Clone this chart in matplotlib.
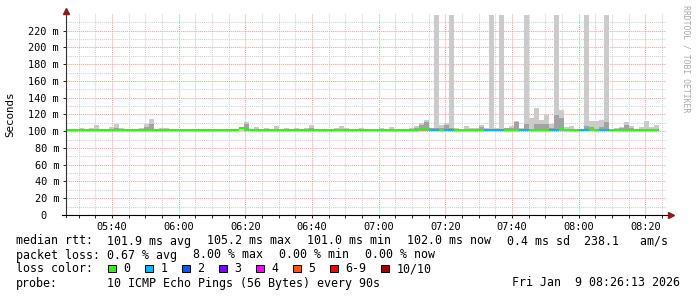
import numpy as np
import matplotlib
matplotlib.use("Agg")
import matplotlib.pyplot as plt
from matplotlib.patches import Rectangle
from matplotlib.ticker import MultipleLocator, FixedLocator, FuncFormatter

# time axis in minutes since midnight, 90 s steps
view_start = 326.2   # 05:26:13
view_end = 506.2     # 08:26:13
step_start = 325.6
step_len = 1.5

# median rtt per step (ms)
median_ms = [
    101.9, 101.9, 101.9, 101.9, 101.9, 101.9, 101.9, 101.9, 101.9, 101.9,
    101.0, 101.0, 101.9, 101.0, 101.0, 101.9, 101.9, 101.9, 101.9, 101.9,
    101.9, 101.9, 101.9, 101.0, 101.9, 101.9, 101.9, 101.9, 101.0, 101.9,
    101.9, 101.9, 101.9, 101.0, 101.9, 104.0, 103.0, 101.9, 101.9, 101.0,
    101.9, 101.9, 101.0, 101.9, 101.9, 101.9, 101.9, 101.9, 101.9, 101.9,
    101.9, 101.9, 101.9, 101.0, 101.9, 101.9, 101.9, 101.9, 101.9, 101.9,
    101.9, 101.9, 101.9, 101.9, 101.9, 101.9, 101.9, 101.0, 101.9, 101.9,
    101.9, 103.0, 103.0, 101.9, 101.9, 101.9, 101.9, 101.9, 101.0, 101.0,
    101.9, 101.9, 101.9, 101.9, 101.9, 101.9, 101.9, 101.9, 101.9, 101.9,
    101.9, 101.9, 101.9, 101.9, 101.9, 101.9, 101.9, 101.9, 101.9, 103.5,
    101.9, 101.9, 101.9, 101.9, 101.9, 104.0, 101.9, 101.9, 101.9, 101.9,
    101.9, 101.9, 101.9, 101.9, 101.9, 101.9, 101.9, 101.9, 101.9,
]

# lost pings out of 10 per step
loss = [
    0, 0, 0, 0, 0, 0, 0, 0, 0, 0,
    0, 0, 0, 0, 0, 0, 0, 0, 0, 0,
    0, 0, 0, 0, 0, 0, 0, 0, 0, 0,
    0, 0, 0, 0, 0, 0, 0, 0, 0, 0,
    0, 0, 0, 0, 0, 0, 0, 0, 0, 0,
    0, 0, 0, 0, 0, 0, 0, 0, 0, 0,
    0, 0, 0, 0, 0, 0, 0, 0, 0, 0,
    0, 0, 0, 1, 1, 0, 1, 1, 0, 0,
    0, 0, 0, 0, 1, 1, 1, 1, 0, 0,
    0, 1, 1, 0, 0, 0, 0, 1, 1, 0,
    0, 0, 0, 1, 1, 0, 0, 1, 1, 0,
    0, 0, 0, 0, 0, 0, 0, 0, 0,
]

# top of the light smoke (max ping, ms)
smoke_max = [
    102.5, 102.5, 102.5, 104.0, 102.5, 104.0, 107.6, 102.5, 102.5, 105.2,
    109.0, 104.0, 102.5, 102.5, 102.5, 104.0, 108.8, 114.7, 102.5, 104.0,
    104.0, 102.5, 102.5, 102.5, 102.5, 102.5, 102.5, 102.5, 102.5, 102.5,
    102.5, 102.5, 102.5, 102.5, 102.5, 105.5, 111.0, 102.5, 105.2, 102.5,
    103.5, 102.5, 106.4, 102.5, 104.0, 102.5, 104.0, 102.5, 104.0, 107.6,
    102.5, 102.5, 102.5, 102.5, 104.0, 106.4, 103.5, 102.5, 102.5, 104.0,
    102.5, 102.5, 102.5, 104.0, 102.5, 105.2, 102.5, 102.5, 102.5, 104.0,
    106.4, 110.0, 113.6, 104.0, 239.0, 107.6, 110.0, 239.0, 103.5, 102.5,
    106.4, 104.0, 104.0, 107.6, 104.0, 239.0, 104.0, 239.0, 104.0, 106.4,
    112.4, 104.0, 239.0, 116.0, 128.0, 113.0, 119.5, 109.0, 239.0, 125.0,
    105.2, 106.0, 102.5, 102.5, 239.0, 112.0, 112.0, 113.0, 239.0, 102.5,
    104.0, 105.2, 111.0, 106.4, 102.5, 105.2, 112.0, 105.2, 107.6,
]

# top of the darker inner smoke (ms), 0 = none
smoke_mid = [
    0, 0, 0, 0, 0, 0, 0, 0, 0, 0,
    104.0, 0, 0, 0, 0, 0, 105.2, 108.8, 0, 0,
    0, 0, 0, 0, 0, 0, 0, 0, 0, 0,
    0, 0, 0, 0, 0, 0, 108.0, 0, 0, 0,
    0, 0, 0, 0, 0, 0, 0, 0, 0, 104.0,
    0, 0, 0, 0, 0, 0, 0, 0, 0, 0,
    0, 0, 0, 0, 0, 0, 0, 0, 0, 0,
    104.0, 107.6, 111.0, 103.5, 104.0, 104.0, 107.6, 104.0, 0, 0,
    0, 0, 0, 105.2, 0, 103.0, 0, 0, 104.0, 104.0,
    111.0, 0, 109.0, 0, 108.0, 108.0, 109.0, 104.0, 119.5, 116.0,
    0, 0, 0, 0, 106.0, 104.5, 0, 105.2, 111.0, 0,
    0, 104.0, 107.6, 104.0, 0, 0, 0, 0, 0,
]

smoke_floor = 100.5

y_ticks = [0, 20, 40, 60, 80, 100, 120, 140, 160, 180, 200, 220]
y_minor = [10, 30, 50, 70, 90, 110, 130, 150, 170, 190, 210, 230]

loss_labels = ["0", "1", "2", "3", "4", "5", "6-9", "10/10"]
loss_colors = ["#26ff00", "#00b8ff", "#0059ff", "#7e00ff", "#ff00ff",
               "#ff5500", "#ff0000", "#a00000"]

stats_rtt = ["median rtt:", "101.9 ms avg", "105.2 ms max", "101.0 ms min",
             "102.0 ms now", "0.4 ms sd  238.1   am/s"]
stats_loss = ["packet loss:", "0.67 % avg", "8.00 % max", "0.00 % min", "0.00 % now"]
probe_text = "10 ICMP Echo Pings (56 Bytes) every 90s"
stamp_text = "Fri Jan  9 08:26:13 2026"

W, H = 697, 297
fig = plt.figure(figsize=(W / 100, H / 100), dpi=100)
fig.patch.set_facecolor("white")

def fx(px):
    return px / W

def fy(py):
    return 1 - py / H

ax = fig.add_axes([fx(66), fy(215), 600 / W, 202 / H])
ax.set_xlim(view_start, view_end)
ax.set_ylim(0, 241)

n = len(median_ms)
t = step_start + step_len * np.arange(n)
med = np.array(median_ms)
hi = np.array(smoke_max)
mid = np.array(smoke_mid)

# smoke
ax.bar(t, hi - smoke_floor, bottom=smoke_floor, width=step_len, align="edge",
       color="#cbcbcb", linewidth=0, zorder=2)
has_mid = mid > 0
ax.bar(t[has_mid], mid[has_mid] - smoke_floor, bottom=smoke_floor, width=step_len,
       align="edge", color="#a2a2a2", linewidth=0, zorder=3)

# median line coloured by loss
cols = [loss_colors[min(l, 7)] for l in loss]
ax.hlines(med, t, t + step_len, colors=cols, linewidth=1.5, zorder=4,
          capstyle="butt")

# grid
dots = (0, (1, 1))
ax.xaxis.set_major_locator(MultipleLocator(20))
ax.xaxis.set_minor_locator(MultipleLocator(5))
ax.yaxis.set_major_locator(FixedLocator(y_ticks))
ax.yaxis.set_minor_locator(FixedLocator(y_minor))
ax.grid(which="minor", color="#cfcfcf", linestyle=dots, linewidth=0.75, zorder=0)
ax.grid(which="major", color="#eea0a0", linestyle=dots, linewidth=0.75, zorder=1)
ax.set_axisbelow(True)

ax.xaxis.set_major_formatter(FuncFormatter(
    lambda v, p: "%02d:%02d" % (int(v) // 60, int(v) % 60)))
ax.yaxis.set_major_formatter(FuncFormatter(
    lambda v, p: "0  " if v == 0 else "%d m" % v))

mono = "DejaVu Sans Mono"
for lab in ax.get_xticklabels() + ax.get_yticklabels():
    lab.set_family(mono)
ax.tick_params(axis="both", which="major", labelsize=7.4, length=2, width=0.7,
               color="#222222", pad=3)
ax.tick_params(axis="x", which="minor", length=2, width=0.7, color="#222222")
ax.tick_params(axis="y", which="minor", length=0)

for s in ax.spines.values():
    s.set_visible(False)
ax.plot([0, 0], [-0.01, 1.0], transform=ax.transAxes, color="#333333",
        lw=0.8, clip_on=False, zorder=5)
ax.plot([-0.007, 1.005], [0, 0], transform=ax.transAxes, color="black",
        lw=0.8, clip_on=False, zorder=5)
ax.plot([0], [1.01], marker="^", ms=4, color="#8b1a1a", transform=ax.transAxes,
        clip_on=False, zorder=6)
ax.plot([1.008], [0], marker=">", ms=4, color="#8b1a1a", transform=ax.transAxes,
        clip_on=False, zorder=6)

fig.text(fx(10), fy(114), "Seconds", rotation=90, ha="center", va="center",
         family=mono, fontsize=7.8)
fig.text(fx(686), fy(5), "RRDTOOL / TOBI OETIKER", rotation=270, ha="center",
         va="top", family=mono, fontsize=5.9, color="#a8a8a8")

# legend block
fs = 8.4
cw = 7.02
rtt_x = [16, 107.3, 207.3, 307.3, 407.3, 507.3]
for x, s in zip(rtt_x, stats_rtt):
    fig.text(fx(x), fy(241), s, family=mono, fontsize=fs, va="center")
loss_x = [16, 107.3, 192.7, 279.3, 365]
for x, s in zip(loss_x, stats_loss):
    fig.text(fx(x), fy(255), s, family=mono, fontsize=fs, va="center")

fig.text(fx(16), fy(269), "loss color:", family=mono, fontsize=fs, va="center")
x = 108.3
for lab, c in zip(loss_labels, loss_colors):
    fig.patches.append(Rectangle((fx(x), fy(272)), 7.5 / W, 7.5 / H,
                                 transform=fig.transFigure, facecolor=c,
                                 edgecolor="black", linewidth=0.7))
    fig.text(fx(x + 15), fy(269), lab, family=mono, fontsize=fs, va="center")
    x += 30 + cw * len(lab)

fig.text(fx(16), fy(283), "probe:", family=mono, fontsize=fs, va="center")
fig.text(fx(107.3), fy(283), probe_text, family=mono, fontsize=fs, va="center")
fig.text(fx(680), fy(283), stamp_text, family=mono, fontsize=fs, va="center",
         ha="right")

fig.savefig("out.png", dpi=100, facecolor="white")
